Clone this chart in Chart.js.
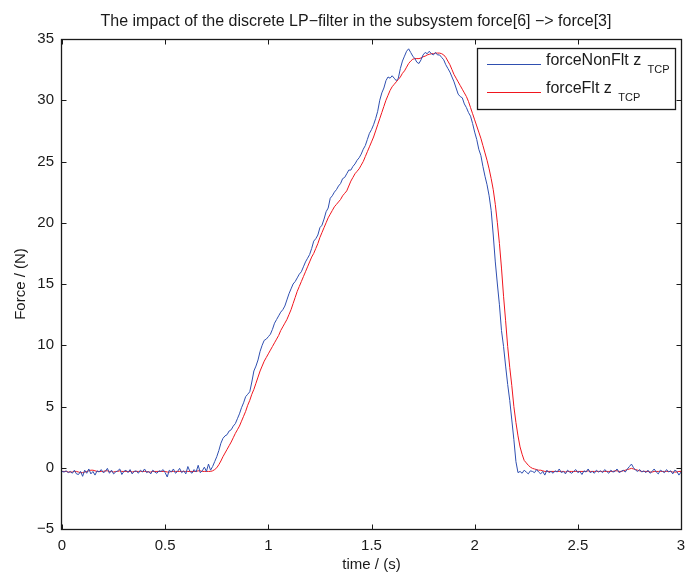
<!DOCTYPE html>
<html>
<head>
<meta charset="utf-8">
<script src="https://cdn.jsdelivr.net/npm/chart.js@4.4.1/dist/chart.umd.min.js"></script>
<style>
  html, body { margin: 0; padding: 0; background: #ffffff; }
  canvas { display: block; }
</style>
</head>
<body>
<canvas id="forceChart" width="685" height="574"></canvas>
<script>
// Texts
const chartTitle = 'The impact of the discrete LP\u2212filter in the subsystem force[6] \u2212> force[3]';
const xTitle = 'time / (s)';
const yTitle = 'Force / (N)';
const seriesLabels = ['forceNonFlt z', 'forceFlt z'];
const seriesSubscripts = ['TCP', 'TCP'];

// Axis ranges / ticks
const xMin = 0, xMax = 3, xStep = 0.5;
const yMin = -5, yMax = 35, yStep = 5;

// Sampling period of the recorded signals (s)
const SAMPLE_DT = 0.01;

// forceNonFlt z_TCP, one value per 0.01 s from 0.00 to 3.00
const forceNonFlt = [
  -0.3, -0.35, -0.25, -0.4, -0.3, -0.45, -0.2, -0.5, -0.55, -0.3,
  -0.7, -0.2, -0.45, -0.1, -0.5, -0.3, -0.6, -0.25, -0.35, -0.15,
  -0.4, -0.3, -0.05, -0.45, -0.2, -0.5, -0.35, -0.25, -0.1, -0.55,
  -0.3, -0.2, -0.4, -0.15, -0.5, -0.3, -0.25, -0.45, -0.2, -0.35,
  -0.1, -0.4, -0.3, -0.5, -0.2, -0.35, -0.45, -0.25, -0.3, -0.15,
  -0.4, -0.75, -0.2, -0.35, -0.1, -0.45, -0.3, -0.05, -0.4, -0.25,
  -0.5, 0.1, -0.3, -0.45, -0.15, -0.35, 0.2, -0.4, -0.25, 0.05,
  -0.3, 0.3, -0.2, 0.1, 0.5, 0.9, 1.4, 2.0, 2.4, 2.6,
  2.7, 3.0, 3.1, 3.4, 3.6, 4.0, 4.4, 4.9, 5.3, 5.8,
  6.0, 6.2, 7.0, 7.9, 8.3, 8.8, 9.5, 10.0, 10.4, 10.5,
  10.7, 10.9, 11.3, 11.8, 12.1, 12.4, 12.7, 12.9, 13.2, 13.7,
  14.2, 14.6, 15.0, 15.2, 15.5, 15.8, 16.0, 16.4, 16.8, 17.1,
  17.4, 17.9, 18.5, 18.7, 19.0, 19.6, 19.8, 20.3, 20.9, 21.2,
  22.0, 22.2, 22.5, 22.7, 23.0, 23.2, 23.6, 23.7, 24.0, 24.3,
  24.3, 24.6, 24.8, 25.1, 25.3, 25.6, 26.0, 26.3, 26.8, 27.3,
  27.6, 28.0, 28.5, 29.1, 30.0, 30.6, 31.0, 31.6, 31.9, 31.8,
  32.0, 31.8, 31.6, 31.8, 32.6, 33.2, 33.6, 34.0, 34.2, 33.9,
  33.6, 33.4, 33.1, 33.0, 33.3, 33.7, 33.9, 33.8, 34.0, 33.8,
  33.7, 33.9, 33.7, 33.7, 33.5, 33.3, 32.9, 32.6, 32.3, 31.9,
  31.5, 31.0, 30.5, 30.3, 30.2, 29.7, 29.4, 29.0, 28.7, 28.1,
  27.4, 26.8, 26.0, 25.5, 24.6, 23.8, 23.1, 22.2, 21.0, 19.0,
  16.8, 15.0, 13.3, 11.2, 9.9, 8.3, 6.8, 5.5, 3.9, 2.3,
  0.5, -0.4, -0.3, -0.45, -0.2, -0.35, -0.5, -0.25, -0.3, -0.4,
  -0.15, -0.35, -0.5, -0.3, -0.6, -0.2, -0.4, -0.3, -0.45, -0.25,
  -0.35, -0.1, -0.4, -0.3, -0.5, -0.2, -0.35, -0.45, -0.3, -0.15,
  -0.4, -0.3, -0.55, -0.25, -0.35, -0.1, -0.4, -0.3, -0.45, -0.2,
  -0.35, -0.25, -0.4, -0.15, -0.3, -0.45, -0.2, -0.35, -0.3, -0.1,
  -0.4, -0.3, -0.2, -0.35, -0.1, 0.1, 0.3, 0.0, -0.2, -0.3,
  -0.15, -0.35, -0.25, -0.4, -0.2, -0.45, -0.3, -0.1, -0.35, -0.5,
  -0.2, -0.3, -0.4, -0.15, -0.35, -0.25, -0.5, -0.2, -0.3, -0.6,
  -0.35
];

// forceFlt z_TCP, same time base
const forceFlt = [
  -0.3, -0.3, -0.3, -0.35, -0.35, -0.35, -0.3, -0.3, -0.35, -0.4,
  -0.4, -0.35, -0.3, -0.25, -0.2, -0.2, -0.25, -0.3, -0.3, -0.3,
  -0.3, -0.25, -0.25, -0.3, -0.3, -0.35, -0.3, -0.3, -0.25, -0.3,
  -0.3, -0.3, -0.3, -0.3, -0.35, -0.3, -0.3, -0.3, -0.3, -0.3,
  -0.3, -0.3, -0.35, -0.35, -0.3, -0.3, -0.3, -0.3, -0.3, -0.3,
  -0.3, -0.35, -0.35, -0.3, -0.3, -0.3, -0.3, -0.3, -0.3, -0.3,
  -0.3, -0.3, -0.3, -0.3, -0.3, -0.3, -0.25, -0.25, -0.3, -0.3,
  -0.3, -0.3, -0.3, -0.25, -0.15, 0.0, 0.25, 0.55, 0.9, 1.2,
  1.5, 1.8, 2.1, 2.45, 2.8, 3.1, 3.4, 3.8, 4.2, 4.6,
  5.1, 5.5, 6.0, 6.4, 6.9, 7.4, 7.9, 8.3, 8.7, 9.0,
  9.3, 9.6, 9.9, 10.2, 10.5, 10.8, 11.2, 11.5, 11.8, 12.1,
  12.5, 12.9, 13.4, 13.9, 14.4, 14.8, 15.2, 15.6, 16.0, 16.4,
  16.8, 17.2, 17.5, 17.9, 18.3, 18.8, 19.2, 19.6, 20.0, 20.4,
  20.7, 21.0, 21.3, 21.5, 21.7, 21.9, 22.2, 22.4, 22.6, 23.0,
  23.4, 23.7, 24.0, 24.2, 24.4, 24.7, 25.0, 25.4, 25.8, 26.2,
  26.6, 27.0, 27.5, 28.0, 28.5, 29.0, 29.5, 30.0, 30.4, 30.8,
  31.1, 31.3, 31.5, 31.7, 31.9, 32.2, 32.4, 32.7, 33.0, 33.2,
  33.35, 33.4, 33.4, 33.4, 33.45, 33.55, 33.6, 33.7, 33.75, 33.8,
  33.8, 33.85, 33.85, 33.85, 33.8, 33.7, 33.5, 33.2, 32.9, 32.5,
  32.1, 31.8, 31.5, 31.2, 30.9, 30.6, 30.3, 29.9, 29.4, 28.9,
  28.4, 27.9, 27.4, 26.9, 26.3, 25.7, 25.1, 24.4, 23.6, 22.7,
  21.5, 20.0, 18.3, 16.3, 14.0, 12.0, 9.9, 8.2, 6.7, 5.0,
  3.7, 2.6, 1.7, 1.1, 0.6, 0.4, 0.2, 0.05, -0.05, -0.1,
  -0.15, -0.2, -0.2, -0.25, -0.3, -0.3, -0.3, -0.3, -0.3, -0.3,
  -0.3, -0.3, -0.3, -0.3, -0.35, -0.3, -0.3, -0.3, -0.3, -0.3,
  -0.3, -0.3, -0.3, -0.3, -0.3, -0.25, -0.3, -0.3, -0.3, -0.3,
  -0.3, -0.3, -0.3, -0.3, -0.3, -0.3, -0.3, -0.3, -0.25, -0.25,
  -0.3, -0.3, -0.25, -0.2, -0.15, -0.1, -0.05, -0.1, -0.15, -0.2,
  -0.25, -0.3, -0.3, -0.3, -0.3, -0.35, -0.35, -0.3, -0.3, -0.3,
  -0.3, -0.3, -0.3, -0.3, -0.3, -0.3, -0.35, -0.35, -0.35, -0.3,
  -0.3
];

const time = forceNonFlt.map((_, i) => +(i * SAMPLE_DT).toFixed(2));

const colors = {
  nonFlt: '#2f4fb0',
  flt: '#f0161e',
  axis: '#1a1a1a',
  text: '#1a1a1a'
};
const FONT = "'Liberation Sans', Arial, sans-serif";

// MATLAB-like frame: box, inward ticks, title and legend
const matlabFrame = {
  id: 'matlabFrame',
  afterDraw(chart) {
    const { ctx, chartArea: a, scales: { x, y } } = chart;
    ctx.save();
    ctx.strokeStyle = colors.axis;
    ctx.lineWidth = 1;
    const L = Math.round(a.left) - 0.5, R = Math.round(a.right) + 0.5;
    const T = Math.round(a.top) + 0.5, B = Math.round(a.bottom) + 0.5;
    ctx.beginPath();
    x.ticks.forEach(t => {
      const px = Math.round(x.getPixelForValue(t.value)) + 0.5;
      ctx.moveTo(px, B); ctx.lineTo(px, B - 5);
      ctx.moveTo(px, T); ctx.lineTo(px, T + 5);
    });
    y.ticks.forEach(t => {
      const py = Math.round(y.getPixelForValue(t.value)) + 0.5;
      ctx.moveTo(L, py); ctx.lineTo(L + 5, py);
      ctx.moveTo(R, py); ctx.lineTo(R - 5, py);
    });
    ctx.stroke();
    ctx.lineWidth = 1.3;
    ctx.strokeRect(L, T, R - L, B - T);

    // title
    ctx.fillStyle = colors.text;
    ctx.font = '16px ' + FONT;
    ctx.textAlign = 'center';
    ctx.textBaseline = 'alphabetic';
    ctx.fillText(chartTitle, 356, 26);

    // legend
    const lx = 477, ly = 48, lw = 198, lh = 61;
    ctx.fillStyle = '#ffffff';
    ctx.fillRect(lx, ly, lw, lh);
    ctx.lineWidth = 1.3;
    ctx.strokeStyle = colors.axis;
    ctx.strokeRect(lx + 0.5, ly + 0.5, lw, lh);
    chart.data.datasets.forEach((ds, i) => {
      const rowY = 64 + i * 28;
      ctx.strokeStyle = ds.borderColor;
      ctx.lineWidth = 1;
      ctx.beginPath();
      ctx.moveTo(487, rowY + 0.5);
      ctx.lineTo(541, rowY + 0.5);
      ctx.stroke();
      ctx.fillStyle = colors.text;
      ctx.textAlign = 'left';
      ctx.font = '16px ' + FONT;
      ctx.fillText(ds.label, 546, rowY + 1);
      const w = ctx.measureText(ds.label + ' ').width;
      ctx.font = '11px ' + FONT;
      ctx.fillText(seriesSubscripts[i], 546 + w + 2, rowY + 9);
    });
    ctx.restore();
  }
};

const ctx = document.getElementById('forceChart').getContext('2d');
new Chart(ctx, {
  type: 'line',
  data: {
    datasets: [
      {
        label: seriesLabels[0],
        data: time.map((t, i) => ({ x: t, y: forceNonFlt[i] })),
        borderColor: colors.nonFlt,
        borderWidth: 1,
        pointRadius: 0,
        tension: 0
      },
      {
        label: seriesLabels[1],
        data: time.map((t, i) => ({ x: t, y: forceFlt[i] })),
        borderColor: colors.flt,
        borderWidth: 1,
        pointRadius: 0,
        tension: 0
      }
    ]
  },
  options: {
    responsive: false,
    animation: false,
    layout: { padding: { top: 39, right: 4, left: 0, bottom: 0 } },
    plugins: {
      legend: { display: false },
      title: { display: false },
      tooltip: { enabled: false }
    },
    scales: {
      x: {
        type: 'linear',
        min: xMin,
        max: xMax,
        grid: { display: false, drawTicks: false },
        border: { display: false },
        ticks: {
          stepSize: xStep,
          padding: 8,
          color: colors.text,
          font: { family: FONT, size: 15 },
          maxRotation: 0,
          callback: v => String(v)
        },
        title: {
          display: true,
          text: xTitle,
          color: colors.text,
          font: { family: FONT, size: 15 },
          padding: { top: 0, bottom: 0 }
        },
        afterFit(scale) {
          scale.height = 45;
          scale.paddingLeft = 0;
          scale.paddingRight = 0;
        }
      },
      y: {
        min: yMin,
        max: yMax,
        grid: { display: false, drawTicks: false },
        border: { display: false },
        ticks: {
          stepSize: yStep,
          padding: 8,
          color: colors.text,
          font: { family: FONT, size: 15 },
          callback: v => String(v).replace('-', '\u2212')
        },
        title: {
          display: true,
          text: yTitle,
          color: colors.text,
          font: { family: FONT, size: 15 },
          padding: { top: 12, bottom: 0 }
        },
        afterFit(scale) {
          scale.width = 62;
          scale.paddingTop = 0;
          scale.paddingBottom = 0;
        }
      }
    }
  },
  plugins: [matlabFrame]
});
</script>
</body>
</html>
